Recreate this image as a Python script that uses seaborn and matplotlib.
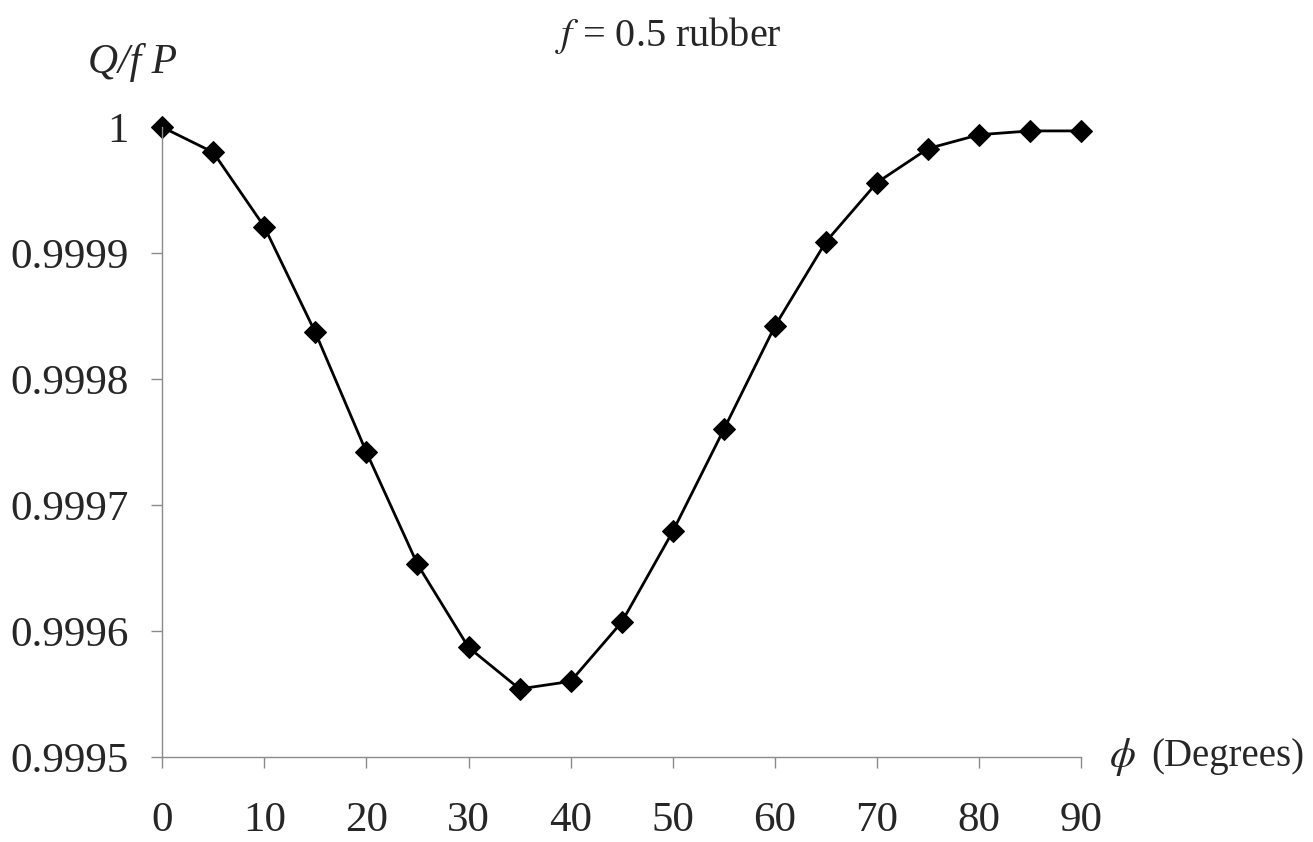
import matplotlib
matplotlib.use("Agg")
import matplotlib.pyplot as plt
import seaborn as sns
import pandas as pd

# values
phi = [0, 5, 10, 15, 20, 25, 30, 35, 40, 45, 50, 55, 60, 65, 70, 75, 80, 85, 90]
q_fp = [1.0, 0.99998, 0.999921, 0.999837, 0.999742, 0.999653, 0.999587, 0.999554,
        0.99956, 0.999607, 0.999679, 0.99976, 0.999842, 0.999909, 0.999956,
        0.999983, 0.999994, 0.999997, 0.999997]
x_ticks = [0, 10, 20, 30, 40, 50, 60, 70, 80, 90]
y_ticks = [0.9995, 0.9996, 0.9997, 0.9998, 0.9999, 1.0]
y_ticklabels = ["0.9995", "0.9996", "0.9997", "0.9998", "0.9999", "1"]

df = pd.DataFrame({"phi": phi, "q": q_fp})

sns.set_style("white")
plt.rcParams["font.family"] = ["Liberation Serif", "DejaVu Serif"]
plt.rcParams["mathtext.fontset"] = "stix"

fig = plt.figure(figsize=(13.13, 8.42), dpi=100)
ax = fig.add_axes([0.1235, 0.101, 0.7, 0.748])

sns.lineplot(data=df, x="phi", y="q", ax=ax, color="black", linewidth=2,
             marker="D", markersize=11, markeredgecolor="black", clip_on=False)

ax.set_xlim(0, 90)
ax.set_ylim(0.9995, 1.0)
ax.set_xticks(x_ticks)
ax.set_yticks(y_ticks)
ax.set_yticklabels(y_ticklabels)
ax.set_xlabel("")
ax.set_ylabel("")

for side in ["top", "right"]:
    ax.spines[side].set_visible(False)
for side in ["left", "bottom"]:
    ax.spines[side].set_color("#8a8a8a")
    ax.spines[side].set_linewidth(1.0)

ax.tick_params(axis="both", direction="out", length=8, width=1, color="#8a8a8a",
               labelsize=31, left=True, bottom=True)
ax.tick_params(axis="y", pad=16)
ax.tick_params(axis="x", pad=24)

fig.text(0.509, 0.958, r"$\it{f}$ = 0.5 rubber", fontsize=29, ha="center", va="center")
fig.text(0.067, 0.926, "Q/f P", fontsize=30, style="italic", ha="left", va="center")
fig.text(0.845, 0.101, r"$\phi$", fontsize=30, ha="left", va="center")
fig.text(0.877, 0.101, "(Degrees)", fontsize=28, ha="left", va="center")

fig.savefig("out.png", dpi=100, facecolor="white")
